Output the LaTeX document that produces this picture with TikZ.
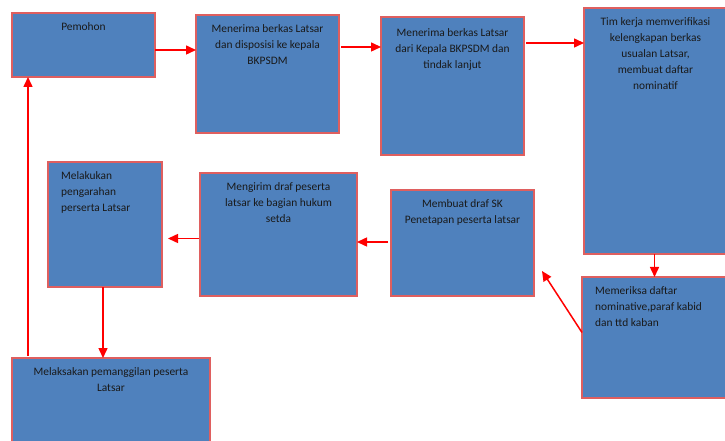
\documentclass[tikz,border=0pt]{standalone}
\usepackage{fontspec}
\setmainfont{Carlito}
\usepackage{xcolor}
\usepackage{tikz}
\usetikzlibrary{arrows.meta,positioning}

\definecolor{boxblue}{HTML}{4F81BD}
\definecolor{boxline}{HTML}{DF5F5F}
\definecolor{arrowred}{HTML}{FF0000}

\tikzset{
  box/.style={rectangle, draw=boxline, line width=1.2bp, fill=boxblue,
    anchor=north west, inner sep=0pt, outer sep=0pt},
  boxtext/.style={font=\fontsize{11.4bp}{16bp}\selectfont, text=black!90,
    align=center, inner sep=0pt, anchor=north, yshift=-9bp},
  boxtextleft/.style={boxtext, align=left, anchor=north west, xshift=13bp},
  arr/.style={draw=arrowred, line width=1.5bp,
    -{Triangle[length=10bp,width=9bp]}}
}

\begin{document}
\begin{tikzpicture}[x=1bp, y=-1bp]

    \useasboundingbox (0,0) rectangle (725,441);
    \clip (0,0) rectangle (725,441);

    % Nodes
    \node[box, minimum width=143bp, minimum height=64bp,
      label={[boxtext]north:Pemohon}] (pemohon) at (12,13) {};
    \node[box, minimum width=143bp, minimum height=118bp,
      label={[boxtext]north:{Menerima berkas Latsar\\dan disposisi ke kepala\\BKPSDM}}] (terima) at (196,15) {};
    \node[box, minimum width=143bp, minimum height=138bp,
      label={[boxtext, yshift=-2bp]north:{Menerima berkas Latsar\\dari Kepala BKPSDM dan\\tindak lanjut}}] (lanjut) at (381,17) {};
    \node[box, minimum width=143bp, minimum height=246bp,
      label={[boxtext]north:{Tim kerja memverifikasi\\kelengkapan berkas\\usualan Latsar,\\membuat daftar\\nominatif}}] (verifikasi) at (584,8) {};
    \node[box, minimum width=146bp, minimum height=121bp,
      label={[boxtextleft]north west:{Memeriksa daftar\\nominative,paraf kabid\\dan ttd kaban}}] (periksa) at (582,277) {};
    \node[box, minimum width=143bp, minimum height=106bp,
      label={[boxtext]north:{Membuat draf SK\\Penetapan peserta latsar}}] (draf) at (391,190) {};
    \node[box, minimum width=157bp, minimum height=123bp,
      label={[boxtext]north:{Mengirim draf peserta\\latsar ke bagian hukum\\setda}}] (kirim) at (200,173) {};
    \node[box, minimum width=114bp, minimum height=125bp,
      label={[boxtextleft]north west:{Melakukan\\pengarahan\\perserta Latsar}}] (arahan) at (48,162) {};
    \node[box, minimum width=198bp, minimum height=100bp,
      label={[boxtext]north:{Melaksakan pemanggilan peserta\\Latsar}}] (panggil) at (12,358) {};

    % Arrows
    \draw[arr] ([yshift=-5bp]pemohon.east) coordinate (a1) -- (a1 -| terima.west);
    \draw[arr] ([shift={(2bp,27bp)}]terima.east) coordinate (a2) -- (a2 -| lanjut.west);
    \draw[arr] ([shift={(2bp,43bp)}]lanjut.east) coordinate (a3) -- (a3 -| verifikasi.west);
    \draw[arr] ([xshift=-1bp]verifikasi.south) coordinate (a4) -- (a4 |- periksa.north);
    \coordinate (e5) at ([shift={(8bp,-28bp)}]draf.east);
    \draw[arr] ([yshift=5bp]periksa.west) -- (e5);
    \draw[arr] ([shift={(-3bp,1bp)}]draf.west) coordinate (a6) -- (a6 -| kirim.east);
    \coordinate (e7) at ([xshift=6bp]arahan.east);
    \draw[arr] ([shift={(-1bp,-4bp)}]kirim.west) coordinate (a7) -- (a7 -| e7);
    \draw[arr] ([xshift=-2bp]arahan.south) coordinate (a8) -- (a8 |- panggil.north);
    \coordinate (a9) at ([xshift=16bp]pemohon.south west);
    \draw[arr] ([yshift=2bp]panggil.north -| a9) -- (a9);

  \end{tikzpicture}
\end{document}
